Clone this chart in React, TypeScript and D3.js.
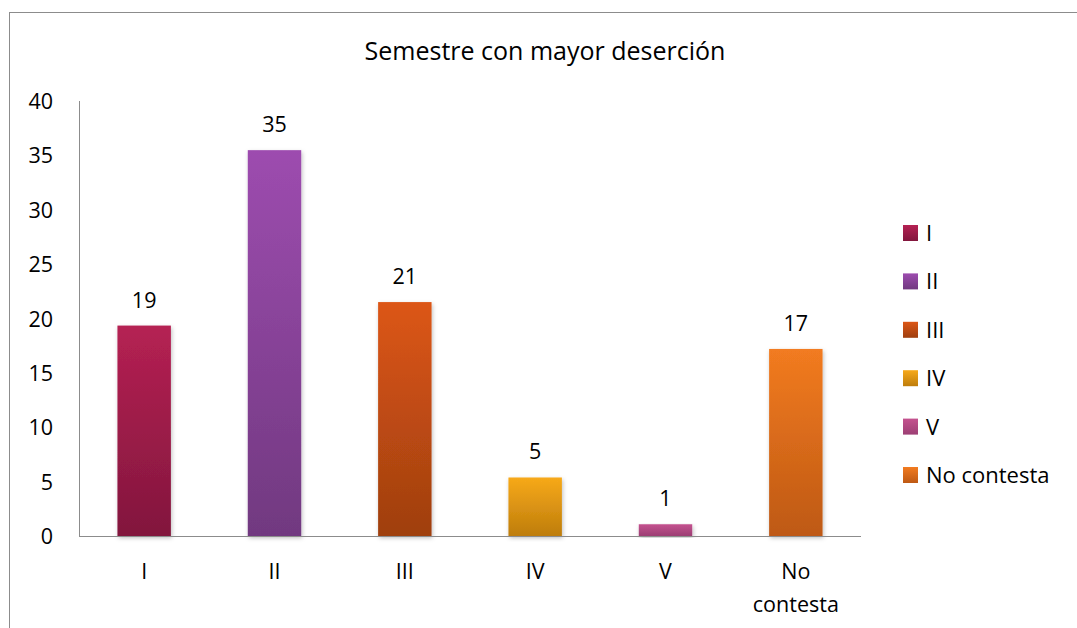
import React from "react";
import * as d3 from "d3";

const categories = ["I", "II", "III", "IV", "V", "No contesta"];
const values = [19.35, 35.48, 21.51, 5.38, 1.08, 17.2];
const labels = ["19", "35", "21", "5", "1", "17"];
const yTicks = [0, 5, 10, 15, 20, 25, 30, 35, 40];
const topColors = ["#b52153", "#9d4caf", "#dc5616", "#f7a91a", "#c4528f", "#f27b20"];
const bottomColors = ["#82163d", "#713980", "#9f3f0f", "#be7d0c", "#9c3f74", "#be5914"];

const width = 1077;
const height = 628;
const margin = { left: 79, top: 101, right: 861, bottom: 536 };
const font = "'Open Sans', sans-serif";
const fs = 21.5;

const App = () => {
  const x = d3
    .scaleBand<string>()
    .domain(categories)
    .range([margin.left, margin.right])
    .paddingInner(0.59)
    .paddingOuter(0.295);
  const y = d3.scaleLinear().domain([0, 40]).range([margin.bottom, margin.top]);
  const cx = (c: string) => (x(c) as number) + x.bandwidth() / 2;

  return (
    <svg
      width={width}
      height={height}
      style={{ position: "absolute", left: 0, top: 0, fontFamily: font }}
    >
      <defs>
        {categories.map((c, i) => (
          <linearGradient key={c} id={"g" + i} x1="0" y1="0" x2="0" y2="1">
            <stop offset="0%" stopColor={topColors[i]} />
            <stop offset="100%" stopColor={bottomColors[i]} />
          </linearGradient>
        ))}
        <filter id="sh" x="-20%" y="-5%" width="140%" height="115%">
          <feDropShadow dx="1" dy="2" stdDeviation="2" floodColor="#000" floodOpacity="0.25" />
        </filter>
      </defs>
      <rect x={9.5} y={12.5} width={1100} height={700} fill="#fff" stroke="#8c8c8c" />

      <text x={545} y={60} textAnchor="middle" fontSize={25} fill="#000">
        Semestre con mayor deserción
      </text>

      {yTicks.map((t) => (
        <text key={t} x={53} y={y(t) + 8} textAnchor="end" fontSize={fs} fill="#000">
          {t}
        </text>
      ))}

      {categories.map((c, i) => (
        <g key={c}>
          <rect
            x={x(c)}
            y={y(values[i])}
            width={x.bandwidth()}
            height={y(0) - y(values[i])}
            fill={`url(#g${i})`}
            filter="url(#sh)"
          />
          <text x={cx(c)} y={y(values[i]) - 18} textAnchor="middle" fontSize={fs} fill="#000">
            {labels[i]}
          </text>
          {c.split(" ").map((w, k) => (
            <text key={w} x={cx(c)} y={579 + k * 33} textAnchor="middle" fontSize={fs} fill="#000">
              {w}
            </text>
          ))}
        </g>
      ))}

      <line x1={margin.left + 0.5} x2={margin.left + 0.5} y1={margin.top} y2={margin.bottom} stroke="#8c8c8c" />
      <line x1={margin.left} x2={margin.right} y1={margin.bottom + 0.5} y2={margin.bottom + 0.5} stroke="#8c8c8c" />

      {categories.map((c, i) => (
        <g key={c} transform={`translate(903, ${225 + i * 48.4})`}>
          <rect width={15} height={16} fill={`url(#g${i})`} />
          <text x={23} y={16} fontSize={22} fill="#000">
            {c}
          </text>
        </g>
      ))}
    </svg>
  );
};

export default App;
